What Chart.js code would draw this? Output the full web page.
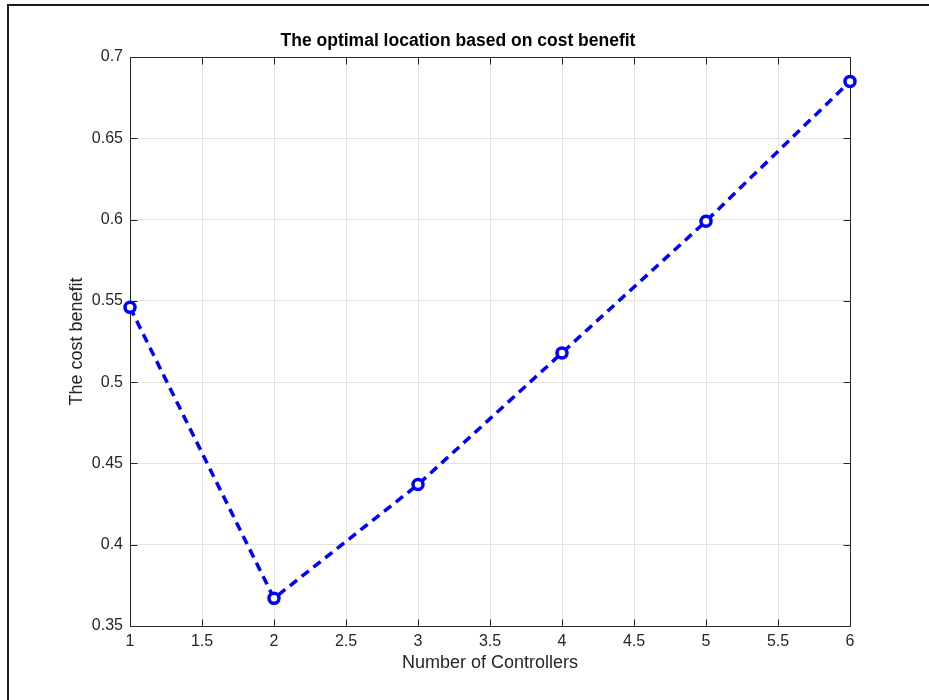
<!DOCTYPE html>
<html>
<head>
<meta charset="utf-8">
<script src="https://cdn.jsdelivr.net/npm/chart.js@4/dist/chart.umd.min.js"></script>
<style>
  html, body { margin: 0; padding: 0; background: #ffffff; }
  canvas { display: block; }
</style>
</head>
<body>
<canvas id="c" width="929" height="700"></canvas>
<script>
// ---- data ----
const controllers = [1, 2, 3, 4, 5, 6];
const costBenefit = [0.546, 0.367, 0.437, 0.518, 0.599, 0.685];
const chartTitle = 'The optimal location based on cost benefit';
const xTitle = 'Number of Controllers';
const yTitle = 'The cost benefit';
const xRange = [1, 6];
const yRange = [0.35, 0.7];
const xStep = 0.5;
const yStep = 0.05;

const FONT = '"Liberation Sans", Arial, Helvetica, sans-serif';
const AXIS_COLOR = '#262626';

const boxPlugin = {
  id: 'matlabBox',
  beforeDatasetsDraw(chart) {
    const ctx = chart.ctx;
    const a = chart.chartArea;
    const xs = chart.scales.x, ys = chart.scales.y;
    ctx.save();
    ctx.strokeStyle = AXIS_COLOR;
    ctx.lineWidth = 1;
    ctx.beginPath();
    const L = Math.round(a.left) + 0.5, R = Math.round(a.right) + 0.5;
    const T = Math.round(a.top) + 0.5, B = Math.round(a.bottom) + 0.5;
    ctx.rect(L, T, R - L, B - T);
    const tl = 7;
    xs.ticks.forEach(t => {
      const px = Math.round(xs.getPixelForValue(t.value)) + 0.5;
      ctx.moveTo(px, B); ctx.lineTo(px, B - tl);
      ctx.moveTo(px, T); ctx.lineTo(px, T + tl);
    });
    ys.ticks.forEach(t => {
      const py = Math.round(ys.getPixelForValue(t.value)) + 0.5;
      ctx.moveTo(L, py); ctx.lineTo(L + tl, py);
      ctx.moveTo(R, py); ctx.lineTo(R - tl, py);
    });
    ctx.stroke();
    ctx.restore();
  },
  afterDraw(chart) {
    const ctx = chart.ctx;
    ctx.save();
    ctx.strokeStyle = '#1a1a1a';
    ctx.lineWidth = 2;
    ctx.beginPath();
    ctx.moveTo(8, 702); ctx.lineTo(8, 5); ctx.lineTo(931, 5);
    ctx.stroke();
    ctx.restore();
  }
};

const fmt = v => String(+Number(v).toFixed(2));

new Chart(document.getElementById('c'), {
  type: 'line',
  data: {
    datasets: [{
      data: controllers.map((x, i) => ({ x: x, y: costBenefit[i] })),
      borderColor: '#0000ff',
      backgroundColor: '#ffffff',
      borderWidth: 3.5,
      borderDash: [9, 6],
      pointRadius: 5,
      pointBorderWidth: 3.5,
      pointBackgroundColor: '#ffffff',
      pointBorderColor: '#0000ff',
      tension: 0,
      clip: false
    }]
  },
  options: {
    responsive: false,
    animation: false,
    devicePixelRatio: 1,
    layout: { padding: { left: 66, right: 79, top: 0, bottom: 26 } },
    plugins: {
      legend: { display: false },
      tooltip: { enabled: false },
      title: {
        display: true,
        text: chartTitle,
        color: '#000000',
        font: { family: FONT, size: 17.5, weight: 'bold' },
        padding: { top: 31, bottom: 5 }
      }
    },
    scales: {
      x: {
        type: 'linear',
        min: xRange[0], max: xRange[1],
        afterFit: s => { s.height = 48; },
        ticks: {
          stepSize: xStep,
          color: AXIS_COLOR,
          padding: 6,
          maxRotation: 0,
          font: { family: FONT, size: 16 },
          callback: fmt
        },
        grid: { color: '#e3e3e3', lineWidth: 1, drawTicks: false },
        border: { display: false },
        title: {
          display: true, text: xTitle, color: AXIS_COLOR,
          padding: 0,
          font: { family: FONT, size: 18 }
        }
      },
      y: {
        type: 'linear',
        min: yRange[0], max: yRange[1],
        afterFit: s => { s.width = 64; },
        ticks: {
          stepSize: yStep,
          color: AXIS_COLOR,
          padding: 7,
          font: { family: FONT, size: 16 },
          callback: fmt
        },
        grid: { color: '#e3e3e3', lineWidth: 1, drawTicks: false },
        border: { display: false },
        title: {
          display: true, text: yTitle, color: AXIS_COLOR,
          padding: 0,
          font: { family: FONT, size: 18 }
        }
      }
    }
  },
  plugins: [boxPlugin]
});
</script>
</body>
</html>
